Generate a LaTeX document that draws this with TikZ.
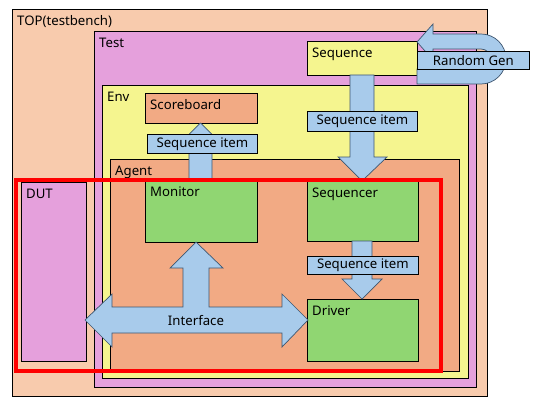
\documentclass[tikz,border=0pt]{standalone}
\usepackage{fontspec}
\setmainfont{Noto Sans}
\usetikzlibrary{positioning}
\definecolor{topc}{HTML}{F8CBAD}
\definecolor{testc}{HTML}{E5A0DC}
\definecolor{envc}{HTML}{F5F58F}
\definecolor{agentc}{HTML}{F2AA84}
\definecolor{compc}{HTML}{90D672}
\definecolor{itemc}{HTML}{A8CBEB}
\definecolor{edgec}{HTML}{3E5670}

\begin{document}
\begin{tikzpicture}[x=1pt,y=-1pt,
every node/.style={font=\fontsize{13.2}{15}\selectfont},
box/.style={draw, line width=0.8pt, anchor=north west, inner sep=0pt},
tag/.style={anchor=north west, inner xsep=5pt, inner ysep=6.5pt},
item/.style={box, fill=itemc, minimum width=110pt},
blk/.style={draw=edgec, line width=0.7pt, fill=itemc, line join=miter}]
\fill[white] (0,0) rectangle (534,406);
\useasboundingbox (0,0) rectangle (534,406);
\node[box, fill=topc, minimum width=475pt, minimum height=387pt, label={[tag]north west:TOP(testbench)}] (top) at (12,9) {};
\node[box, fill=testc, minimum width=382pt, minimum height=356pt, label={[tag]north west:Test}] (test) at (94,31) {};
\node[box, fill=envc, minimum width=366pt, minimum height=293pt, label={[tag]north west:Env}] (env) at (102,85) {};
\node[box, fill=agentc, minimum width=349pt, minimum height=212pt, label={[tag]north west:Agent}] (agent) at (110,159) {};
\node[box, fill=testc, minimum width=65pt, minimum height=179pt, label={[tag]north west:DUT}] (dut) at (21,182) {};
\node[box, fill=agentc, minimum width=112pt, minimum height=30pt, label={[tag]north west:Scoreboard}] (sb) at (145,93) {};
\node[box, fill=compc, minimum width=112pt, minimum height=62pt, label={[tag]north west:Monitor}] (mon) at (145,180) {};
\node[box, fill=compc, minimum width=111pt, minimum height=60pt, label={[tag]north west:Sequencer}] (seqr) at (307,181) {};
\node[box, fill=compc, minimum width=111pt, minimum height=62pt, label={[tag]north west:Driver}] (drv) at (307,299) {};
\node[box, fill=envc, minimum width=110pt, minimum height=34pt, label={[tag]north west:Sequence}] (seq) at (307,41) {};
\draw[blk] (350,75) -- (374,75) -- (374,157) -- (387,157) -- (362,181) -- (338,157) -- (350,157) -- cycle;
\draw[blk] (352,241) -- (372,241) -- (372,279) -- (382,279) -- (362,299) -- (342,279) -- (352,279) -- cycle;
\draw[blk] (189,180) -- (212,180) -- (212,146) -- (224,146) -- (200.5,123) -- (177,146) -- (189,146) -- cycle;
\draw[blk] (85,320) -- (112,294) -- (112,307) -- (183,307) -- (183,268) -- (170,268) -- (196,242) -- (223,268) -- (209,268) -- (209,307) -- (282,307) -- (282,294) -- (308,320) -- (282,347) -- (282,333) -- (112,333) -- (112,347) -- cycle;
\draw[blk] (417,42) -- (433,24) -- (433,34) -- (481,34) arc (-90:90:25) -- (417,84) -- (417,69) -- (481,69) arc (90:-90:10) -- (433,49) -- (433,60) -- cycle;
\node[item, minimum height=19pt] (si1) at (147,134) {Sequence item};
\node[item, minimum height=20pt] (si2) at (307,111) {Sequence item};
\node[item, minimum width=111pt, minimum height=18pt] (si3) at (307,256) {Sequence item};
\node[item, minimum width=112pt, minimum height=18pt] (rg) at (417,51) {Random Gen};
\node (ifc) at (196,321) {Interface};
\node[draw=red, line width=4pt, anchor=north west, inner sep=0pt, minimum width=425pt, minimum height=191pt] (focus) at (14,178) {};
\end{tikzpicture}
\end{document}
